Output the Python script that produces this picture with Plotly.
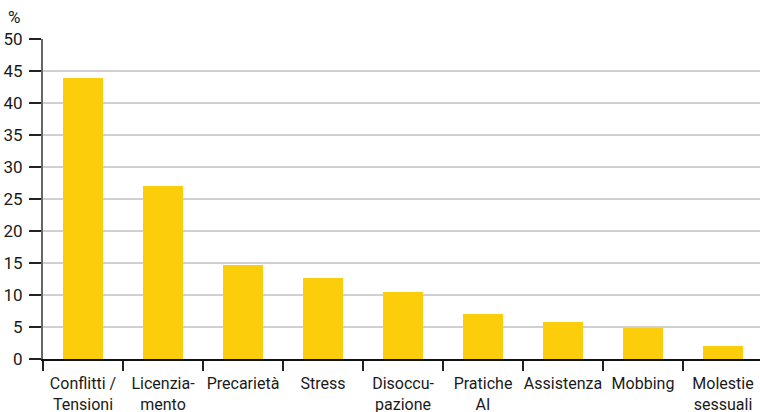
import plotly.graph_objects as go

# Reasons cited, share of respondents (%)
categories = [
    "Conflitti /<br>Tensioni",
    "Licenzia-<br>mento",
    "Precarietà",
    "Stress",
    "Disoccu-<br>pazione",
    "Pratiche<br>AI",
    "Assistenza",
    "Mobbing",
    "Molestie<br>sessuali",
]
values = [43.9, 27.0, 14.7, 12.7, 10.5, 7.0, 5.8, 4.8, 2.0]
y_ticks = [0, 5, 10, 15, 20, 25, 30, 35, 40, 45, 50]

FONT = "Roboto, Liberation Sans, sans-serif"
TEXT = "#1a1a1a"

fig = go.Figure(
    go.Bar(
        x=categories,
        y=values,
        width=0.51,
        marker=dict(color="#FBCD0B", line=dict(width=0)),
        hoverinfo="x+y",
    )
)

fig.update_layout(
    width=760,
    height=412,
    margin=dict(l=43, r=0, t=39, b=53),
    paper_bgcolor="white",
    plot_bgcolor="white",
    showlegend=False,
    bargap=0,
    font=dict(family=FONT, size=16, color=TEXT),
    annotations=[
        dict(
            text="%",
            xref="paper",
            yref="paper",
            x=-0.041,
            y=1.0,
            yshift=10,
            xanchor="center",
            yanchor="bottom",
            showarrow=False,
            font=dict(family=FONT, size=17, color=TEXT),
        )
    ],
)

fig.update_xaxes(
    type="category",
    range=[-0.5, 8.4625],
    tickson="boundaries",
    tickangle=0,
    automargin=False,
    ticks="outside",
    ticklen=10,
    tickwidth=1.5,
    tickcolor="#222222",
    ticklabelstandoff=9,
    showline=True,
    linecolor="#111111",
    linewidth=1.5,
    showgrid=False,
    tickfont=dict(family=FONT, size=16, color=TEXT),
)

fig.update_yaxes(
    range=[0, 50],
    tickvals=y_ticks,
    automargin=False,
    ticks="outside",
    ticklen=12,
    tickwidth=1.5,
    tickcolor="#222222",
    ticklabelstandoff=3,
    showline=True,
    linecolor="#666666",
    linewidth=2,
    showgrid=True,
    gridcolor="#d0d0d0",
    gridwidth=1.5,
    zeroline=False,
    tickfont=dict(family=FONT, size=17, color=TEXT),
)

fig.write_html("out.html")
